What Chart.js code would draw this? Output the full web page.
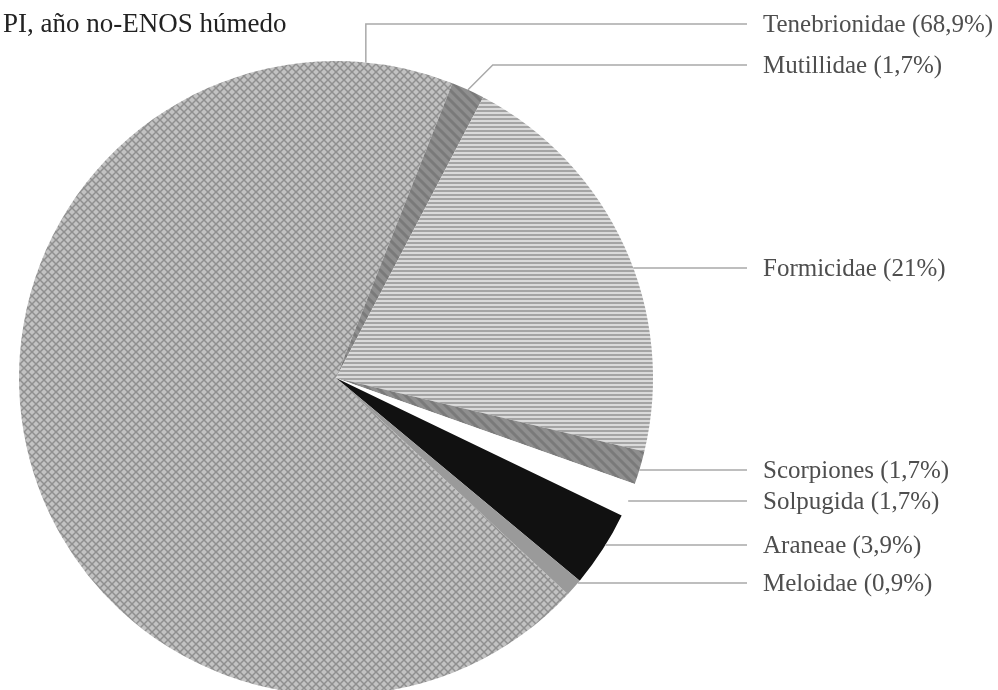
<!DOCTYPE html>
<html>
<head>
<meta charset="utf-8">
<script src="https://cdn.jsdelivr.net/npm/chart.js@4/dist/chart.umd.min.js"></script>
<style>
  html, body { margin: 0; padding: 0; background: #ffffff; overflow: hidden; }
  #wrap { position: relative; width: 998px; height: 700px; }
</style>
</head>
<body>
<div id="wrap"><canvas id="c" width="998" height="700"></canvas></div>
<script>
// ---- data ----
const titleText = 'PI, año no-ENOS húmedo';
const categories = ['Tenebrionidae', 'Mutillidae', 'Formicidae', 'Scorpiones', 'Solpugida', 'Araneae', 'Meloidae'];
const percentages = [68.9, 1.7, 21, 1.7, 1.7, 3.9, 0.9];
const percentLabels = ['68,9%', '1,7%', '21%', '1,7%', '1,7%', '3,9%', '0,9%'];

// ---- layout / style ----
const labelY = [24, 65, 268, 470, 501, 545, 583];
const lineEndX = 747;
const textX = 763;
const tenAnchorDeg = 5.4;

function makePattern(w, h, draw) {
  const c = document.createElement('canvas');
  c.width = w; c.height = h;
  const g = c.getContext('2d');
  draw(g, w, h);
  return document.getElementById('c').getContext('2d').createPattern(c, 'repeat');
}
const crossHatch = makePattern(8, 8, (g, w, h) => {
  g.fillStyle = '#c2c2c2'; g.fillRect(0, 0, w, h);
  g.strokeStyle = '#8f8f8f'; g.lineWidth = 1.5;
  g.beginPath();
  g.moveTo(-2, -2); g.lineTo(w + 2, h + 2);
  g.moveTo(-2, h + 2); g.lineTo(w + 2, -2);
  g.stroke();
});
const hLines = makePattern(4, 4, (g, w, h) => {
  g.fillStyle = '#dadada'; g.fillRect(0, 0, w, h);
  g.fillStyle = '#a4a4a4'; g.fillRect(0, 2, w, 2);
});
const diagDark = makePattern(10, 10, (g, w, h) => {
  g.fillStyle = '#8f8f8f'; g.fillRect(0, 0, w, h);
  g.strokeStyle = '#7a7a7a'; g.lineWidth = 3;
  g.beginPath();
  g.moveTo(-5, -5); g.lineTo(w + 5, h + 5);
  g.moveTo(-5, 5); g.lineTo(5, 15);
  g.moveTo(5, -5); g.lineTo(15, 5);
  g.stroke();
});
const sliceFills = [crossHatch, diagDark, hLines, diagDark, '#ffffff', '#111111', '#9a9a9a'];

const labelPlugin = {
  id: 'labels',
  afterDraw(chart) {
    const ctx = chart.ctx;
    const arcs = chart.getDatasetMeta(0).data;
    ctx.save();
    // title
    ctx.fillStyle = '#222222';
    ctx.font = '27px "Liberation Serif", "Times New Roman", serif';
    ctx.textAlign = 'left';
    ctx.textBaseline = 'alphabetic';
    ctx.fillText(titleText, 3, 32);

    ctx.strokeStyle = '#a9a9a9';
    ctx.lineWidth = 1.5;
    arcs.forEach((arc, i) => {
      const p = arc.getProps(['x', 'y', 'startAngle', 'endAngle', 'outerRadius'], true);
      const ly = labelY[i];
      ctx.beginPath();
      if (i === 0) {
        const a = tenAnchorDeg * Math.PI / 180;
        const ax = p.x + p.outerRadius * Math.sin(a);
        const ay = p.y - p.outerRadius * Math.cos(a);
        ctx.moveTo(ax, ay); ctx.lineTo(ax, ly); ctx.lineTo(lineEndX, ly);
      } else if (i === 1) {
        const m = (p.startAngle + p.endAngle) / 2;
        const ax = p.x + p.outerRadius * Math.cos(m);
        const ay = p.y + p.outerRadius * Math.sin(m);
        ctx.moveTo(ax, ay); ctx.lineTo(ax + (ay - ly), ly); ctx.lineTo(lineEndX, ly);
      } else {
        const dy = ly - p.y;
        const dx = Math.sqrt(Math.max(p.outerRadius * p.outerRadius - dy * dy, 0));
        ctx.moveTo(p.x + dx, ly); ctx.lineTo(lineEndX, ly);
      }
      ctx.stroke();
      ctx.fillStyle = '#4e4e4e';
      ctx.font = '25px "Liberation Serif", "Times New Roman", serif';
      ctx.textBaseline = 'middle';
      ctx.fillText(categories[i] + ' (' + percentLabels[i] + ')', textX, ly + 1);
    });
    ctx.restore();
  }
};

new Chart(document.getElementById('c'), {
  type: 'pie',
  data: {
    labels: categories,
    datasets: [{
      data: percentages,
      backgroundColor: sliceFills,
      borderWidth: 0,
      hoverOffset: 0
    }]
  },
  options: {
    responsive: false,
    animation: false,
    rotation: 133,
    layout: { padding: { left: 19, top: 61, right: 345, bottom: 5 } },
    plugins: { legend: { display: false }, tooltip: { enabled: false }, title: { display: false } }
  },
  plugins: [labelPlugin]
});
</script>
</body>
</html>
